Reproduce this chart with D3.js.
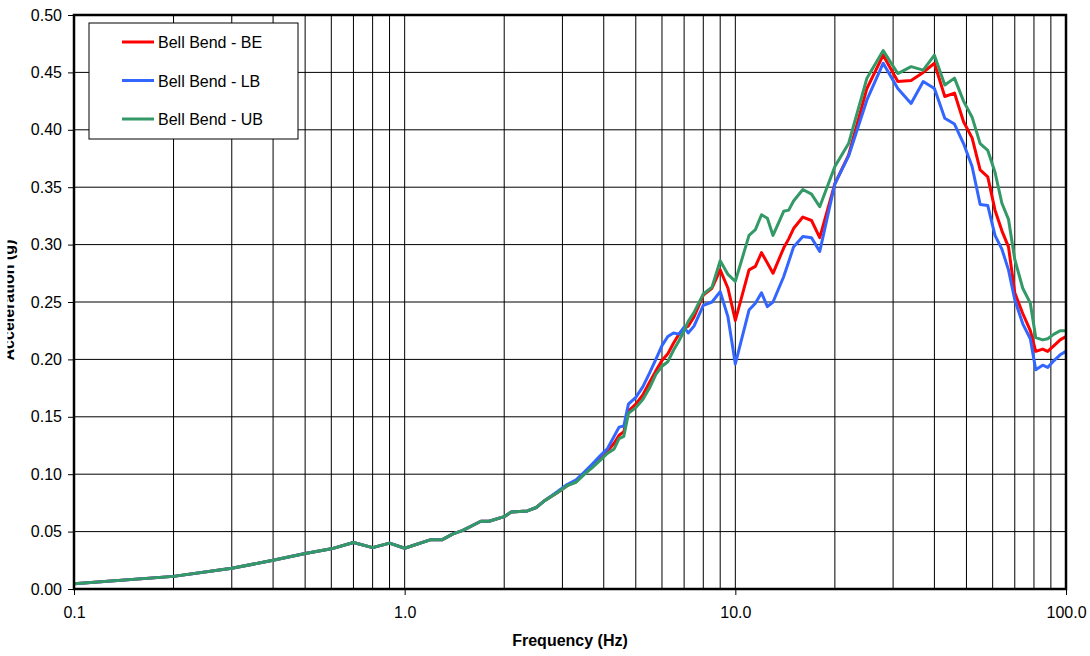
<!DOCTYPE html>
<html>
<head>
<meta charset="utf-8">
<script src="https://cdn.jsdelivr.net/npm/d3@7"></script>
<style>
  body { margin: 0; background: #ffffff; }
</style>
</head>
<body>
<div id="chart"></div>
<script>
// frequencies (Hz), shared by the three spectra
const freq = [
  0.1, 0.2, 0.3, 0.4, 0.5, 0.6, 0.7, 0.8, 0.9, 1.0,
  1.2, 1.3, 1.4, 1.5, 1.7, 1.8, 2.0, 2.1, 2.35, 2.5,
  2.65, 2.9, 3.1, 3.3, 3.5, 3.7, 3.9, 4.1, 4.3, 4.45,
  4.6, 4.75, 5.0, 5.25, 5.5, 5.75, 6.0, 6.25, 6.5, 6.75,
  7.0, 7.2, 7.5, 8.0, 8.5, 9.0, 9.5, 10, 11, 11.5,
  12, 12.5, 13, 14, 14.5, 15, 16, 17, 18, 20,
  22, 25, 28, 31, 34, 37, 40, 43, 46, 49,
  52, 55, 58, 61, 64, 67, 70, 74, 78, 81,
  85, 88, 92, 96, 100
];

const bellBendBE = [
  0.0045, 0.011, 0.018, 0.025, 0.031, 0.035, 0.0405, 0.036, 0.040, 0.0355,
  0.043, 0.043, 0.048, 0.051, 0.059, 0.059, 0.063, 0.067, 0.068, 0.071,
  0.077, 0.084, 0.090, 0.094, 0.101, 0.108, 0.114, 0.120, 0.127, 0.134,
  0.137, 0.155, 0.161, 0.169, 0.180, 0.190, 0.199, 0.205, 0.214, 0.222,
  0.227, 0.229, 0.237, 0.256, 0.262, 0.278, 0.262, 0.234, 0.278, 0.281,
  0.293, 0.284, 0.275, 0.297, 0.305, 0.314, 0.324, 0.321, 0.306, 0.353,
  0.378, 0.436, 0.465, 0.442, 0.443, 0.450, 0.458, 0.429, 0.432, 0.407,
  0.393, 0.365, 0.359, 0.330, 0.312, 0.298, 0.258, 0.240, 0.225, 0.207,
  0.209, 0.207, 0.212, 0.217, 0.220
];

const bellBendLB = [
  0.0045, 0.011, 0.018, 0.025, 0.031, 0.035, 0.0405, 0.036, 0.040, 0.0355,
  0.043, 0.043, 0.048, 0.051, 0.059, 0.059, 0.063, 0.067, 0.068, 0.071,
  0.077, 0.085, 0.091, 0.095, 0.102, 0.109, 0.116, 0.122, 0.133, 0.141,
  0.142, 0.161, 0.167, 0.176, 0.188, 0.200, 0.212, 0.220, 0.223, 0.222,
  0.228, 0.223, 0.229, 0.247, 0.250, 0.259, 0.237, 0.196, 0.243, 0.249,
  0.258, 0.246, 0.250, 0.272, 0.285, 0.298, 0.307, 0.306, 0.294, 0.353,
  0.377, 0.426, 0.458, 0.436, 0.423, 0.442, 0.436, 0.410, 0.405, 0.388,
  0.368, 0.335, 0.334, 0.308, 0.296, 0.278, 0.252, 0.231, 0.218, 0.191,
  0.195, 0.193, 0.199, 0.204, 0.207
];

const bellBendUB = [
  0.0045, 0.011, 0.018, 0.025, 0.031, 0.035, 0.0405, 0.036, 0.040, 0.0355,
  0.043, 0.043, 0.048, 0.051, 0.059, 0.059, 0.063, 0.067, 0.068, 0.071,
  0.077, 0.084, 0.090, 0.093, 0.100, 0.106, 0.112, 0.118, 0.122, 0.131,
  0.133, 0.153, 0.158, 0.165, 0.175, 0.187, 0.194, 0.198, 0.208, 0.216,
  0.225, 0.233, 0.241, 0.257, 0.263, 0.286, 0.274, 0.268, 0.308, 0.313,
  0.326, 0.323, 0.308, 0.329, 0.330, 0.338, 0.348, 0.344, 0.333, 0.368,
  0.388, 0.445, 0.469, 0.449, 0.455, 0.452, 0.465, 0.439, 0.445, 0.425,
  0.411, 0.388, 0.382, 0.363, 0.336, 0.322, 0.287, 0.262, 0.249, 0.219,
  0.217, 0.218, 0.222, 0.225, 0.225
];

const seriesNames = ["Bell Bend - BE", "Bell Bend - LB", "Bell Bend - UB"];
const seriesColors = ["#ff0000", "#3366ff", "#339966"];
const xTickValues = [0.1, 1, 10, 100];
const yTickValues = [0, 0.05, 0.10, 0.15, 0.20, 0.25, 0.30, 0.35, 0.40, 0.45, 0.50];
const xTitle = "Frequency (Hz)";
const yTitle = "Acceleration (g)";

const width = 1090;
const height = 656;
const margin = {top: 15, right: 24, bottom: 67, left: 74};
const font = "'Liberation Sans', Arial, sans-serif";

const x = d3.scaleLog().domain([0.1, 100]).range([margin.left, width - margin.right]);
const y = d3.scaleLinear().domain([0, 0.5]).range([height - margin.bottom, margin.top]);

const svg = d3.select("#chart").append("svg")
  .attr("width", width)
  .attr("height", height)
  .style("font-family", font);

// minor grid: every integer multiple inside each decade
const gridX = [];
[0.1, 1, 10].forEach(d => { for (let k = 2; k <= 10; k++) gridX.push(d * k); });
gridX.pop();

svg.append("g").selectAll("line").data(gridX).join("line")
  .attr("x1", d => x(d)).attr("x2", d => x(d))
  .attr("y1", y(0)).attr("y2", y(0.5))
  .attr("stroke", "#000").attr("stroke-width", 1);

svg.append("g").selectAll("line").data(yTickValues.slice(1, -1)).join("line")
  .attr("x1", x(0.1)).attr("x2", x(100))
  .attr("y1", d => y(d)).attr("y2", d => y(d))
  .attr("stroke", "#000").attr("stroke-width", 1);

// series
const series = [bellBendBE, bellBendLB, bellBendUB];
const line = d3.line().x(d => x(d[0])).y(d => y(d[1]));
svg.append("g").selectAll("path").data(series).join("path")
  .attr("fill", "none")
  .attr("stroke", (d, i) => seriesColors[i])
  .attr("stroke-width", 3)
  .attr("stroke-linejoin", "round")
  .attr("d", d => line(freq.map((f, i) => [f, d[i]])));

// frame
svg.append("rect")
  .attr("x", x(0.1)).attr("y", y(0.5))
  .attr("width", x(100) - x(0.1)).attr("height", y(0) - y(0.5))
  .attr("fill", "none").attr("stroke", "#000").attr("stroke-width", 2.5);

// axes
const yAxis = svg.append("g").attr("transform", `translate(${margin.left},0)`)
  .call(d3.axisLeft(y).tickValues(yTickValues).tickFormat(d3.format(".2f")).tickSize(6).tickPadding(6));
yAxis.select(".domain").remove();
yAxis.selectAll(".tick line").attr("stroke", "#000").attr("stroke-width", 1);
yAxis.selectAll(".tick text").attr("fill", "#000").attr("font-size", "16px").attr("font-family", font);

const xAxis = svg.append("g").attr("transform", `translate(0,${y(0)})`)
  .call(d3.axisBottom(x).tickValues(xTickValues).tickFormat(d3.format(".1f")).tickSize(6).tickPadding(12));
xAxis.select(".domain").remove();
xAxis.selectAll(".tick line").attr("stroke", "#000").attr("stroke-width", 1);
xAxis.selectAll(".tick text").attr("fill", "#000").attr("font-size", "16px").attr("font-family", font);

// axis titles
svg.append("text")
  .attr("x", (x(0.1) + x(100)) / 2).attr("y", 646)
  .attr("text-anchor", "middle").attr("font-size", "16px").attr("font-weight", "bold")
  .text(xTitle);

// y title is partly hidden in the original, keep that look with a clip
svg.append("clipPath").attr("id", "ylab-clip")
  .append("rect").attr("x", 7.5).attr("y", 0).attr("width", 40).attr("height", height);
svg.append("g").attr("clip-path", "url(#ylab-clip)")
  .append("text")
  .attr("transform", "translate(13.5,300) rotate(-90)")
  .attr("text-anchor", "middle").attr("font-size", "16px").attr("font-weight", "bold")
  .text(yTitle);

// legend
const legend = svg.append("g").attr("transform", "translate(89,23)");
legend.append("rect").attr("width", 209).attr("height", 116)
  .attr("fill", "#fff").attr("stroke", "#000").attr("stroke-width", 1);
const items = legend.selectAll("g.item").data(seriesNames).join("g")
  .attr("class", "item")
  .attr("transform", (d, i) => `translate(0,${19 + i * 38.5})`);
items.append("line").attr("x1", 33).attr("x2", 65).attr("y1", 0).attr("y2", 0)
  .attr("stroke", (d, i) => seriesColors[i]).attr("stroke-width", 3);
items.append("text").attr("x", 69).attr("y", 6)
  .attr("font-size", "16px").attr("fill", "#000")
  .text(d => d);
</script>
</body>
</html>
